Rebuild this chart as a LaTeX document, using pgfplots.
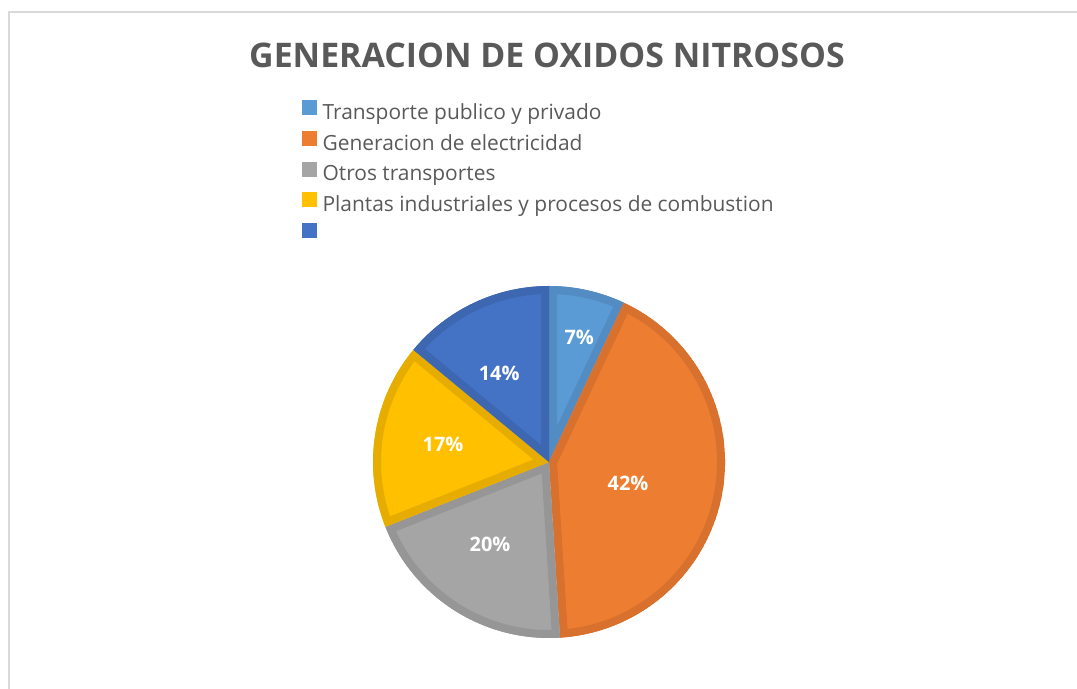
\documentclass[border=0pt]{standalone}
\usepackage{pgfplots}
\pgfplotsset{compat=1.18}
\usepackage{fontspec}
\setmainfont{Open Sans}
\definecolor{c1}{HTML}{5B9BD5}\definecolor{d1}{HTML}{528CC2}
\definecolor{c2}{HTML}{ED7D31}\definecolor{d2}{HTML}{D7712D}
\definecolor{c3}{HTML}{A5A5A5}\definecolor{d3}{HTML}{969696}
\definecolor{c4}{HTML}{FFC000}\definecolor{d4}{HTML}{E6AD00}
\definecolor{c5}{HTML}{4472C4}\definecolor{d5}{HTML}{3E67B2}
\definecolor{txt}{HTML}{595959}
\definecolor{frame}{HTML}{D9D9D9}
\def\cx{549}\def\cy{227}\def\R{176}
\begin{document}
\begin{tikzpicture}
\begin{axis}[
  at={(0,0)}, anchor=south west,
  scale only axis, width=1077bp, height=689bp,
  xmin=0, xmax=1077, ymin=0, ymax=689,
  hide axis, clip=false,
  title={GENERACION DE OXIDOS NITROSOS},
  title style={at={(axis cs:547,628)}, anchor=center, yshift=0pt, inner sep=0pt,
    font=\fontsize{34}{40}\selectfont\bfseries, text=txt},
  legend style={at={(axis cs:302,589)}, anchor=north west, draw=none, fill=none,
    font=\fontsize{21}{25}\selectfont, text=txt, inner sep=0pt,
    row sep=6.5bp,
    nodes={inner sep=0pt, text height=16bp, text depth=5bp}},
  legend cell align=left,
  legend image code/.code={\fill[#1] (0bp,-0.5bp) rectangle (14bp,13.5bp);},
]
\path (axis cs:0,0) rectangle (axis cs:1077,689);
\draw[frame, line width=1.5bp] (axis cs:9,0) -- (axis cs:9,677) -- (axis cs:1077,677);
\addlegendimage{c1}\addlegendentry{\hspace{6bp}Transporte publico y privado}
\addlegendimage{c2}\addlegendentry{\hspace{6bp}Generacion de electricidad}
\addlegendimage{c3}\addlegendentry{\hspace{6bp}Otros transportes}
\addlegendimage{c4}\addlegendentry{\hspace{6bp}Plantas industriales y procesos de combustion}
\addlegendimage{c5}\addlegendentry{}
\pgfplotsextra{
  \gdef\cum{0}
  \foreach \v/\f/\d/\rr/\tw in {7/c1/d1/0.73/-1, 42/c2/d2/0.465/-4.2, 20/c3/d3/0.574/-3.3, 17/c4/d4/0.611/-0.6, 14/c5/d5/0.58/4} {
    \pgfmathsetmacro\sa{90-3.6*\cum}
    \pgfmathsetmacro\ea{90-3.6*(\cum+\v)}
    \pgfmathsetmacro\ma{(\sa+\ea)/2+\tw}
    \pgfmathsetmacro\sx{\cx+\R*cos(\sa)}
    \pgfmathsetmacro\sy{\cy+\R*sin(\sa)}
    \pgfmathsetmacro\lx{\cx+\rr*\R*cos(\ma)}
    \pgfmathsetmacro\ly{\cy+\rr*\R*sin(\ma)}
    \begin{scope}
      \clip (axis cs:\cx,\cy) -- (axis cs:\sx,\sy) arc[start angle=\sa, end angle=\ea, radius=\R] -- cycle;
      \fill[\f] (axis cs:\cx,\cy) -- (axis cs:\sx,\sy) arc[start angle=\sa, end angle=\ea, radius=\R] -- cycle;
      \draw[\d, line width=16bp, line join=miter] (axis cs:\cx,\cy) -- (axis cs:\sx,\sy) arc[start angle=\sa, end angle=\ea, radius=\R] -- cycle;
    \end{scope}
    \node[text=white, font=\fontsize{20}{24}\selectfont\bfseries] at (axis cs:\lx,\ly) {\v\%};
    \pgfmathsetmacro\newcum{\cum+\v}
    \xdef\cum{\newcum}
  }
}
\end{axis}
\pgfresetboundingbox
\useasboundingbox (0,0) rectangle (1077bp,689bp);
\end{tikzpicture}
\end{document}
